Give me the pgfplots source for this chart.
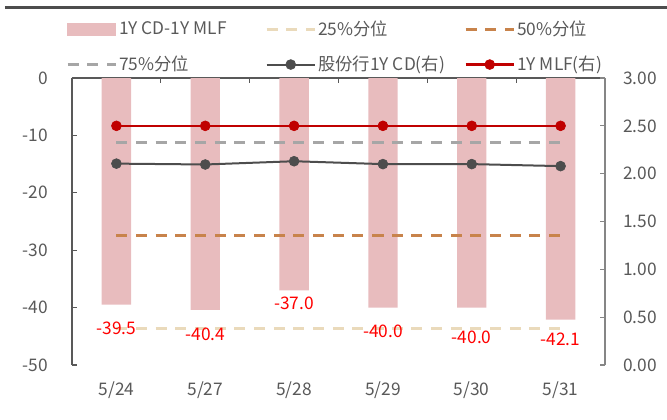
\documentclass[border=0pt]{standalone}
\usepackage{fontspec}
\setmainfont{Noto Sans CJK SC}
\usepackage{pgfplots}
\pgfplotsset{compat=1.18}
\definecolor{barpink}{RGB}{232,188,190}
\definecolor{q25}{RGB}{234,218,187}
\definecolor{q50}{RGB}{200,131,75}
\definecolor{q75}{RGB}{166,166,166}
\definecolor{cdgray}{RGB}{77,77,77}
\definecolor{mlfred}{RGB}{192,0,0}
\definecolor{txtgray}{RGB}{89,89,89}
\definecolor{rightgray}{RGB}{134,134,134}
\definecolor{rulegray}{RGB}{77,77,77}

\pgfplotsset{
  base/.style={
    scale only axis, width=399.75pt, height=215.25pt,
    xmin=-0.5, xmax=5.5,
    clip=false,
    /pgf/number format/assume math mode=true,
    tick label style={font=\fontsize{13}{15}\selectfont, text=txtgray},
    axis line style={-},
    major tick length=3.75pt,
  },
  qline/.style={line width=2.25pt, dash pattern=on 8.25pt off 6.5pt},
}

\begin{document}
\begin{tikzpicture}
\useasboundingbox (-54pt,-40.5pt) rectangle (446.25pt,273.75pt);
\draw[rulegray, line width=2.6pt] (-50.25pt,268.1pt) -- (446.25pt,268.1pt);
\begin{axis}[base, at={(0,0)}, anchor=south west,
  ymin=-50, ymax=0, ytick={-50,-40,-30,-20,-10,0},
  axis y line*=left, axis x line*=top,
  axis line style={draw=txtgray, line width=0.8pt},
  xtick={-0.5,0.5,1.5,2.5,3.5,4.5,5.5}, xticklabels={},
  tick style={draw=txtgray, line width=0.8pt},
  yticklabel style={anchor=east, inner sep=0pt, xshift=-18pt},
  ]
\addplot[ybar, bar width=22pt, fill=barpink, draw=none] coordinates {(0,-39.5) (1,-40.4) (2,-37.0) (3,-40.0) (4,-40.0) (5,-42.1)};
\addplot[qline, q25] coordinates {(0,-43.6) (1,-43.6) (2,-43.6) (3,-43.6) (4,-43.6) (5,-43.6)};
\addplot[qline, q50] coordinates {(0,-27.4) (1,-27.4) (2,-27.4) (3,-27.4) (4,-27.4) (5,-27.4)};
\addplot[qline, q75] coordinates {(0,-11.3) (1,-11.3) (2,-11.3) (3,-11.3) (4,-11.3) (5,-11.3)};
\addplot[draw=none, mark=none, nodes near coords, point meta=explicit symbolic,
  every node near coord/.append style={anchor=center, text=red, inner sep=0pt, font=\fontsize{13}{15}\selectfont}]
  table[meta=lab] {
x y lab
0 -43.6 -39.5
1 -44.6 -40.4
2 -39.2 -37.0
3 -44.1 -40.0
4 -45.1 -40.0
5 -45.5 -42.1
};
\end{axis}
\begin{axis}[base, at={(0,0)}, anchor=south west,
  ymin=0, ymax=3, ytick={0,0.5,1,1.5,2,2.5,3},
  axis y line*=right, axis x line*=bottom,
  x axis line style={opacity=0},
  y axis line style={draw=rightgray, line width=0.8pt},
  y tick style={draw=rightgray, line width=0.8pt},
  x tick style={draw=none},
  xtick={0,1,2,3,4,5}, xticklabels={5/24,5/27,5/28,5/29,5/30,5/31},
  xticklabel style={anchor=center, yshift=-18.75pt},
  yticklabel style={anchor=west, inner sep=0pt, xshift=13.3pt, /pgf/number format/.cd, fixed, fixed zerofill, precision=2},
  legend columns=3,
  legend cell align=left,
  legend style={at={(-0.0113,1.207)}, anchor=north west, draw=none, fill=none, inner sep=0pt,
    row sep=11pt,
    nodes={inner sep=1.5pt, text=txtgray, font=\fontsize{13}{15}\selectfont},
    /tikz/every even column/.append style={column sep=8pt}},
  legend image code/.code={\draw[mark repeat=2, mark phase=2, #1] plot coordinates {(0pt,0pt) (18pt,0pt) (36pt,0pt)};},
  ]
\addlegendimage{legend image code/.code={\fill[barpink] (0pt,-4.5pt) rectangle (36pt,4.5pt);}}
\addlegendentry{\makebox[100pt][l]{1Y CD-1Y MLF}}
\addlegendimage{qline, q25}
\addlegendentry{\makebox[100pt][l]{25\%分位}}
\addlegendimage{qline, q50}
\addlegendentry{\makebox[100pt][l]{50\%分位}}
\addlegendimage{qline, q75}
\addlegendentry{\makebox[100pt][l]{75\%分位}}
\addplot[cdgray, line width=1.5pt, mark=*, mark size=3.7pt, mark options={fill=cdgray, draw=cdgray, line width=0.5pt}]
  coordinates {(0,2.105) (1,2.096) (2,2.13) (3,2.10) (4,2.10) (5,2.079)};
\addlegendentry{\makebox[100pt][l]{股份行1Y CD(右)}}
\addplot[mlfred, line width=2pt, mark=*, mark size=3.7pt, mark options={fill=mlfred, draw=mlfred, line width=0.5pt}]
  coordinates {(0,2.50) (1,2.50) (2,2.50) (3,2.50) (4,2.50) (5,2.50)};
\addlegendentry{\makebox[100pt][l]{1Y MLF(右)}}
\end{axis}
\end{tikzpicture}
\end{document}
